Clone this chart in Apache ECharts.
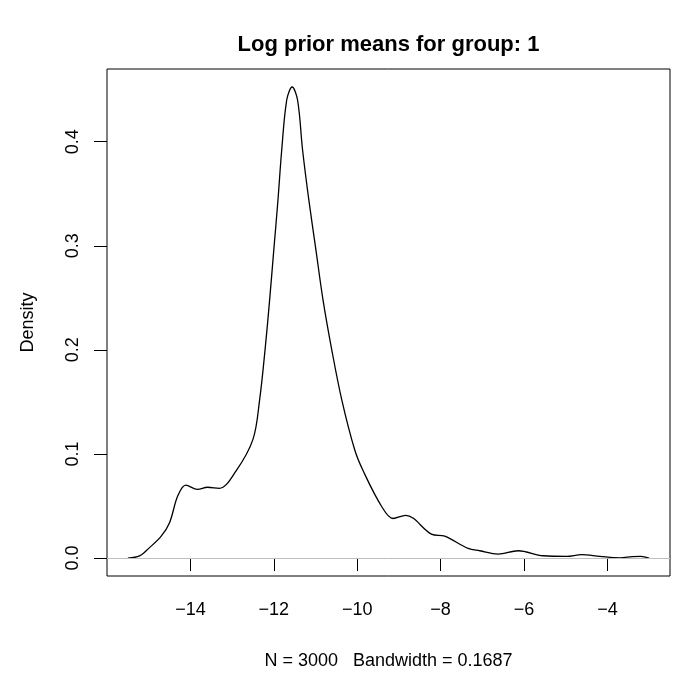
<!DOCTYPE html>
<html>
<head>
<meta charset="utf-8">
<script src="https://cdn.jsdelivr.net/npm/echarts@6/dist/echarts.min.js"></script>
<style>html,body{margin:0;padding:0;background:#fff}#c{width:678px;height:675px}</style>
</head>
<body>
<div id="c"></div>
<script>
var titleText = 'Log prior means for group: 1';
var xLabel = 'N = 3000   Bandwidth = 0.1687';
var yLabel = 'Density';
var xTicks = [-14, -12, -10, -8, -6, -4];
var yTicks = [0.0, 0.1, 0.2, 0.3, 0.4];
var densX = [-15.50,-15.22,-14.98,-14.70,-14.50,-14.30,-14.11,-13.83,-13.59,-13.31,-12.90,-12.50,-12.34,-12.21,-12.10,-12.00,-11.90,-11.81,-11.69,-11.56,-11.43,-11.31,-11.16,-10.99,-10.82,-10.61,-10.37,-10.06,-9.86,-9.42,-9.14,-8.84,-8.22,-7.90,-7.34,-7.06,-6.62,-6.14,-5.54,-4.98,-4.62,-4.18,-3.70,-3.40,-3.20,-3.00];
var densY = [0.000,0.002,0.010,0.021,0.034,0.060,0.070,0.066,0.068,0.067,0.084,0.114,0.152,0.200,0.248,0.296,0.344,0.392,0.440,0.4525,0.440,0.392,0.344,0.296,0.248,0.200,0.152,0.104,0.084,0.050,0.038,0.041,0.023,0.021,0.0093,0.007,0.0038,0.007,0.0022,0.0016,0.0032,0.0016,0.0002,0.0014,0.0016,0.0];

var L = 107, T = 69, R = 670, B = 577;
var pxPerX = 41.7, xMin = -16.0;
var xMax = xMin + (R - L) / pxPerX;
var y0px = 559, pxPerY = 1043;
var yMin = -(B - y0px) / pxPerY, yMax = (y0px - T) / pxPerY;

var data = densX.map(function (x, i) { return [x, densY[i]]; });
var font = 'Liberation Sans, Arial, Helvetica, sans-serif';
var chart = echarts.init(document.getElementById('c'), null, {renderer: 'canvas'});
chart.setOption({
  animation: false,
  backgroundColor: '#fff',
  graphic: [{
    type: 'text', x: (L + R) / 2, y: 45,
    style: {text: titleText, font: 'bold 22px ' + font, fill: '#000', align: 'center', verticalAlign: 'middle'}
  }],
  grid: {left: L, top: T, width: R - L, height: B - T, show: true, borderColor: '#000', borderWidth: 1, containLabel: false},
  xAxis: {
    type: 'value', min: xMin, max: xMax,
    splitLine: {show: false},
    axisLine: {show: false},
    axisTick: {show: true, length: 13, inside: false, customValues: xTicks, lineStyle: {color: '#000', width: 1}},
    axisLabel: {show: true, customValues: xTicks, margin: 25, color: '#000', fontSize: 18, fontFamily: font,
      formatter: function (v) { return String(v).replace('-', '\u2212'); }},
    name: xLabel, nameLocation: 'middle', nameGap: 76,
    nameTextStyle: {color: '#000', fontSize: 18, fontFamily: font}
  },
  yAxis: {
    type: 'value', min: yMin, max: yMax,
    splitLine: {show: false},
    axisLine: {show: false},
    axisTick: {show: true, length: 13, inside: false, customValues: yTicks, lineStyle: {color: '#000', width: 1}},
    axisLabel: {show: true, customValues: yTicks, rotate: 90, margin: 25, color: '#000', fontSize: 18, fontFamily: font,
      formatter: function (v) { return v.toFixed(1); }},
    name: yLabel, nameLocation: 'middle', nameGap: 70, nameRotate: 90,
    nameTextStyle: {color: '#000', fontSize: 18, fontFamily: font}
  },
  series: [{
    type: 'line', data: data, smooth: 0.35, showSymbol: false, clip: true,
    lineStyle: {color: '#000', width: 1.3},
    markLine: {silent: true, symbol: 'none', label: {show: false},
      lineStyle: {color: '#bebebe', width: 1, type: 'solid'},
      data: [{yAxis: 0}]},
    z: 3
  }]
});
</script>
</body>
</html>
